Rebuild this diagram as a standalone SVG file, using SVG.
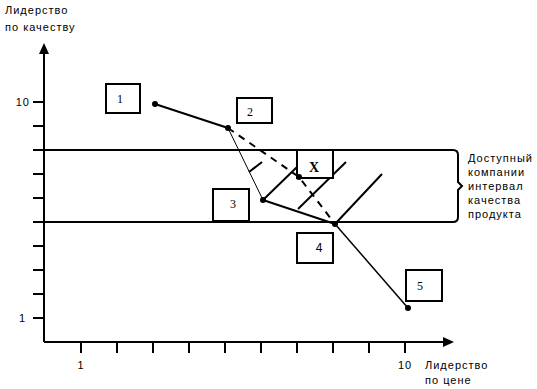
<svg xmlns="http://www.w3.org/2000/svg" width="537" height="389" viewBox="0 0 537 389">
<style>
.lbl{font-family:"Liberation Sans",Arial,sans-serif;font-size:11px;letter-spacing:1px;fill:#000}
.num{font-family:"Liberation Serif","Times New Roman",serif;font-size:12px;fill:#000;text-anchor:middle}
.box{fill:#fff;stroke:#000;stroke-width:2}
.ax{stroke:#000;stroke-width:2;fill:none}
.tk{stroke:#000;stroke-width:2}
.ln{stroke:#000;fill:none}
.dot{fill:#000}
</style>
<rect width="537" height="389" fill="#fff"/>
<g id="axes">
  <path class="ax" d="M44,342 V52 M44,342 H445"/>
  <polygon points="44,43 39,54 49,54"/>
  <polygon points="454,342 443,337 443,347"/>
  <path class="tk" d="M33,102H44M33,126H44M33,150H44M33,174H44M33,198H44M33,222H44M33,246H44M33,270H44M33,294H44M33,318H44"/>
  <path class="tk" d="M81,342V353M117,342V353M153,342V353M189,342V353M225,342V353M261,342V353M297,342V353M333,342V353M369,342V353M405,342V353"/>
  <text class="lbl" x="5" y="14">Лидерство</text>
  <text class="lbl" x="5" y="31">по качеству</text>
  <text class="lbl" x="30" y="106" text-anchor="end">10</text>
  <text class="lbl" x="26" y="322" text-anchor="end">1</text>
  <text class="lbl" x="81" y="369" text-anchor="middle">1</text>
  <text class="lbl" x="405" y="369" text-anchor="middle">10</text>
  <text class="lbl" x="425" y="369">Лидерство</text>
  <text class="lbl" x="425" y="384">по цене</text>
</g>
<g id="band">
  <path class="ax" d="M44,150 H453 Q458,150 458,155 V182 L462,186 L458,190 V217 Q458,222 453,222 H44"/>
  <text class="lbl" x="468" y="162">Доступный</text>
  <text class="lbl" x="468" y="176">компании</text>
  <text class="lbl" x="468" y="190">интервал</text>
  <text class="lbl" x="468" y="204">качества</text>
  <text class="lbl" x="468" y="218">продукта</text>
</g>
<g id="connectors">
  <path class="ln" stroke-width="2" d="M155,104 L228,128"/>
  <path class="ln" stroke-width="1" d="M228,128 L263,200"/>
  <path class="ln" stroke-width="2" d="M263,200 L335,224"/>
  <path class="ln" stroke-width="1.5" d="M335,224 L408,308"/>
  <path class="ln" stroke-width="2" stroke-dasharray="7,6" d="M228,128 L299,177 L335,224"/>
  <path class="ln" stroke-width="2" d="M249,172 L262,162 M263,200 L297,167 M298,209 L346,162 M335,224 L382,174"/>
</g>
<g id="node-1"><rect class="box" x="106" y="84" width="34" height="29"/><text class="num" x="120" y="103">1</text><circle class="dot" cx="155" cy="104" r="3"/></g>
<g id="node-2"><rect class="box" x="237" y="98" width="35" height="25"/><text class="num" x="250" y="116">2</text><circle class="dot" cx="228" cy="128" r="3"/></g>
<g id="node-3"><rect class="box" x="213" y="189" width="36" height="32"/><text class="num" x="233" y="208">3</text><circle class="dot" cx="263" cy="200" r="3"/></g>
<g id="node-x"><rect class="box" x="297" y="150" width="36" height="28"/><text class="num" x="314" y="172" style="font-size:14px;font-weight:bold">X</text><circle class="dot" cx="299" cy="177" r="3"/></g>
<g id="node-4"><rect class="box" x="297" y="233" width="36" height="30"/><text class="lbl" x="319" y="252" text-anchor="middle" style="font-size:12px;letter-spacing:0">4</text><circle class="dot" cx="335" cy="224" r="3"/></g>
<g id="node-5"><rect class="box" x="406" y="270" width="36" height="31"/><text class="num" x="420" y="290">5</text><circle class="dot" cx="408" cy="308" r="3"/></g>
</svg>
